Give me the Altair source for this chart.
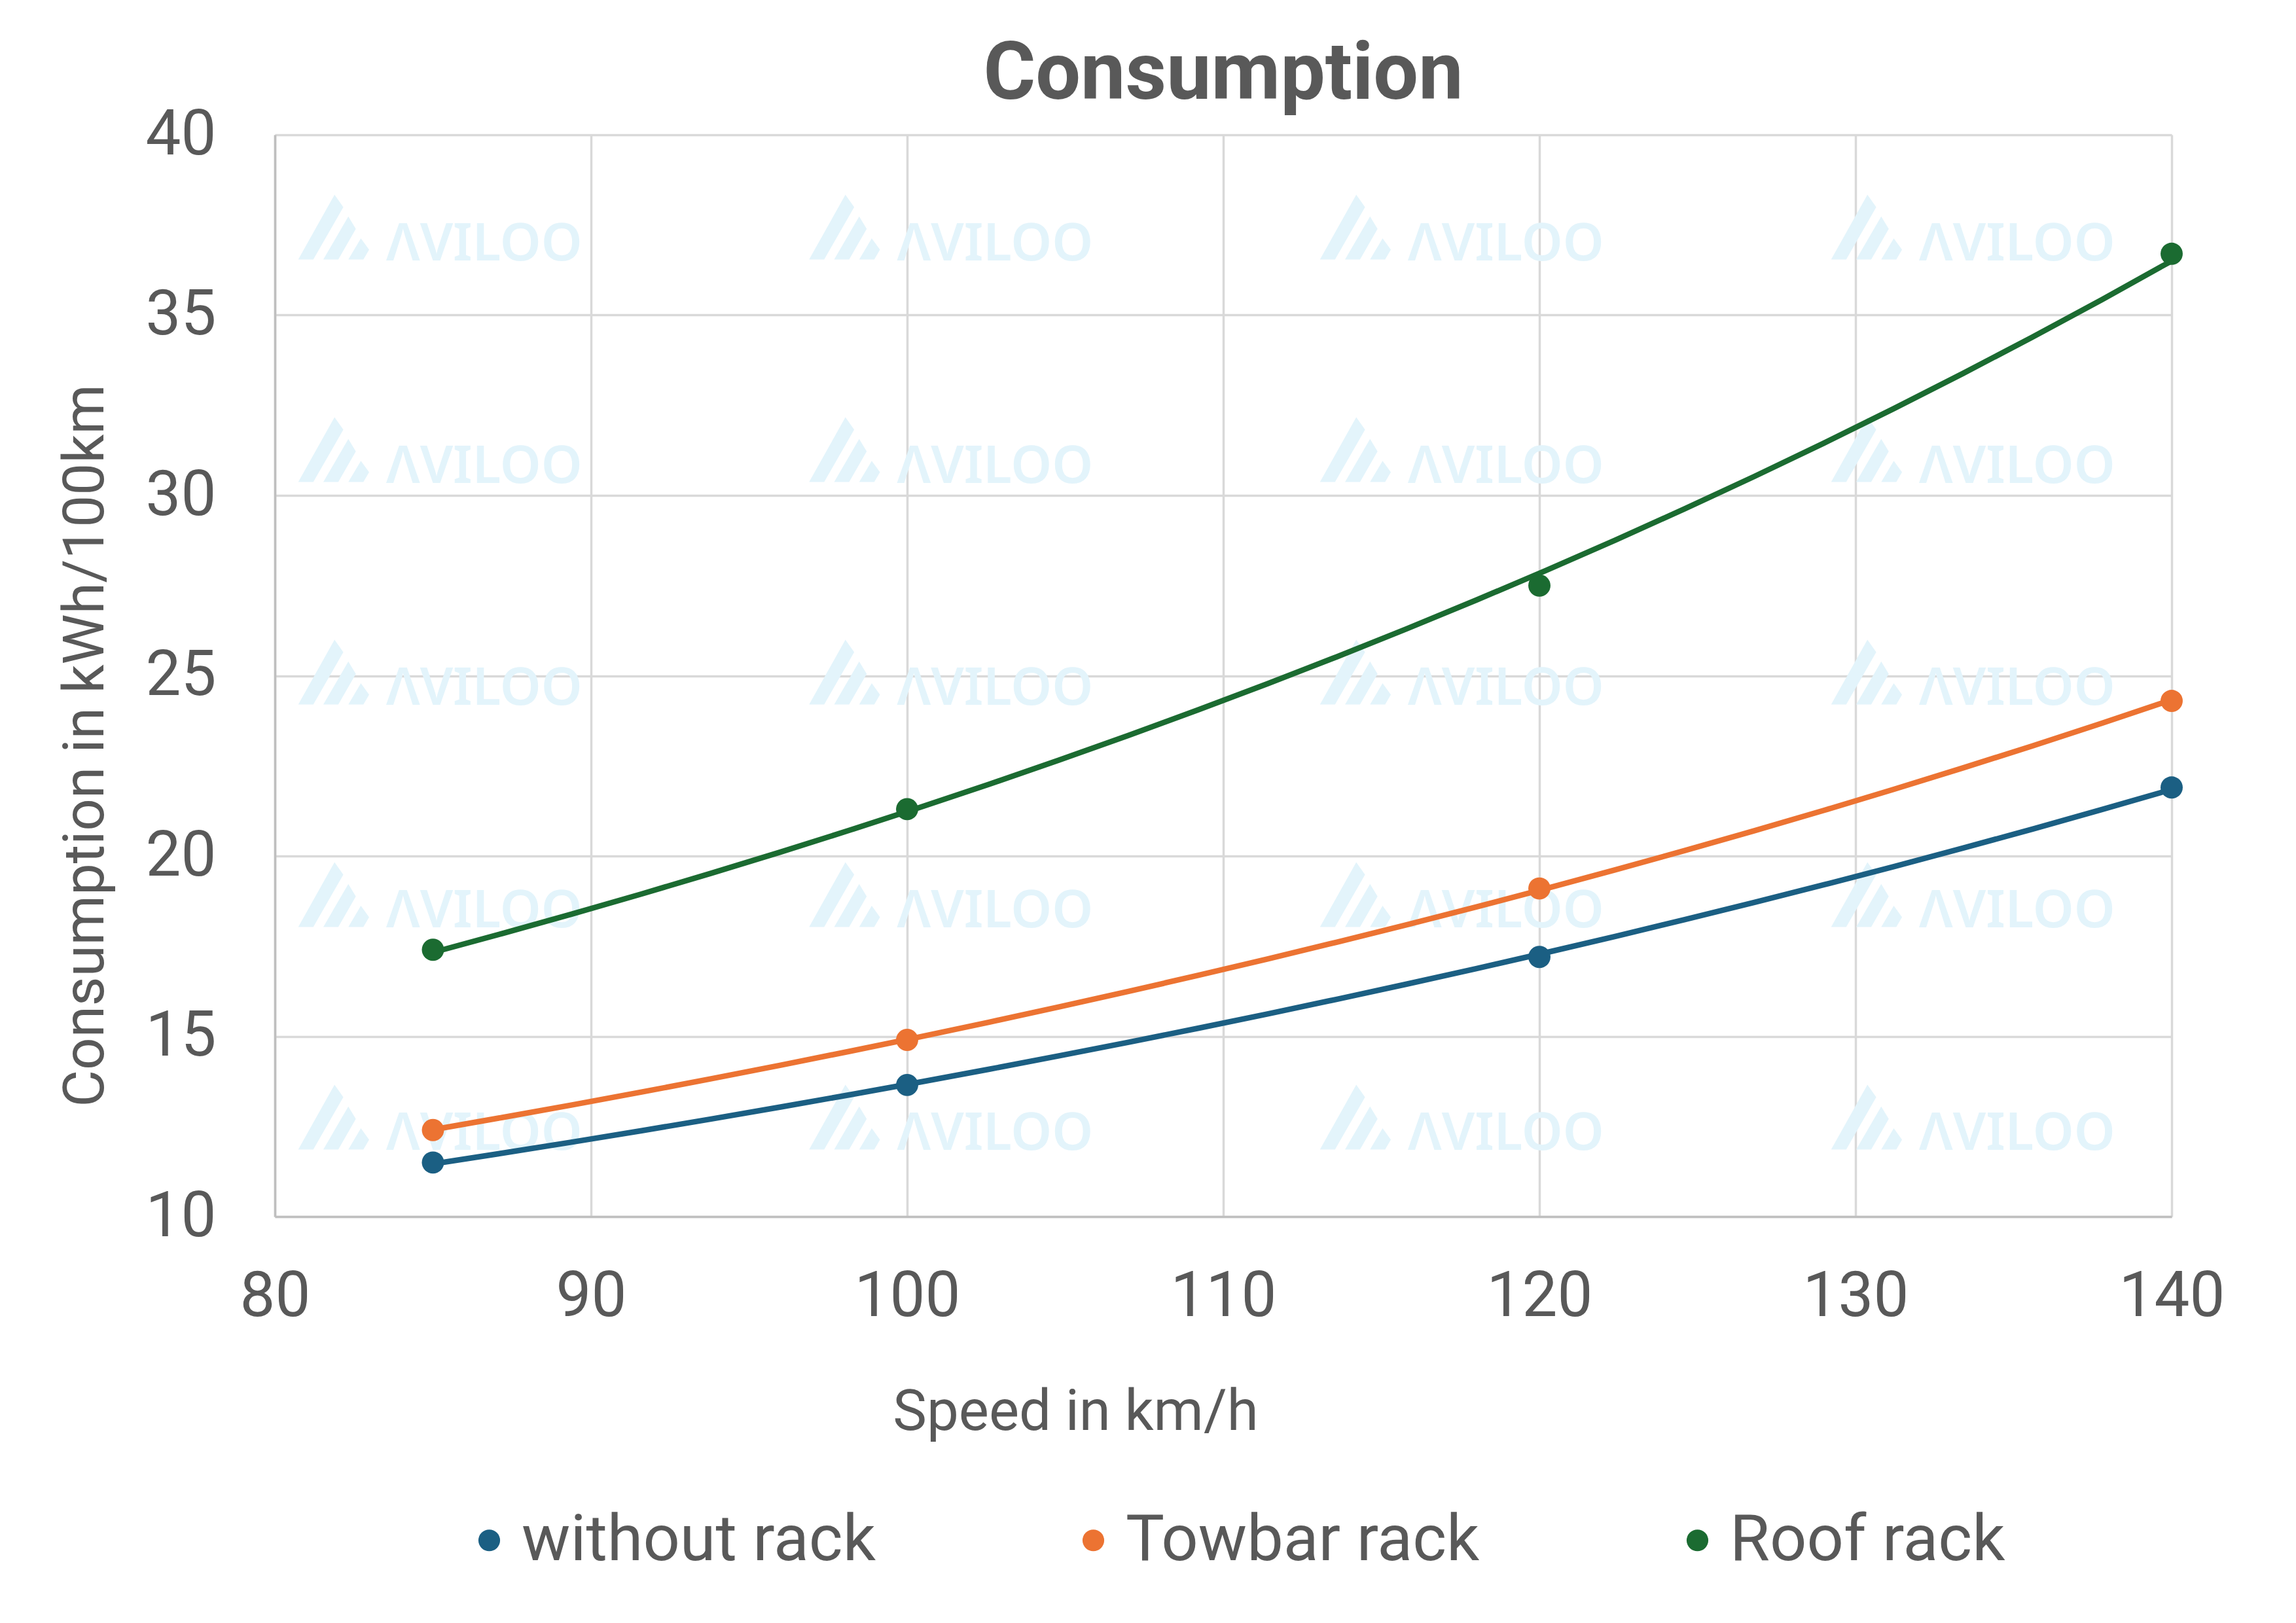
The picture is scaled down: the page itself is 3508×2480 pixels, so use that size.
import altair as alt
import pandas as pd

# ---- data ----
speeds = [85, 100, 120, 140]
series_names = ["without rack", "Towbar rack", "Roof rack"]
without_rack = [11.5, 13.65, 17.2, 21.9]
towbar_rack = [12.4, 14.9, 19.1, 24.3]
roof_rack = [17.4, 21.3, 27.5, 36.7]
series_colors = ["#1B5F83", "#EC7332", "#1B6B31"]
x_ticks = [80, 90, 100, 110, 120, 130, 140]
y_ticks = [10, 15, 20, 25, 30, 35, 40]
# watermark grid (data coordinates of logo centres)
wm_x = [81.86, 98.02, 114.18, 130.35]
wm_y = [37.44, 31.27, 25.10, 18.93, 12.76]

rows = []
for name, vals in zip(series_names, [without_rack, towbar_rack, roof_rack]):
    for s, v in zip(speeds, vals):
        rows.append({"series": name, "speed": s, "value": v})
df = pd.DataFrame(rows)
wm = pd.DataFrame([{"speed": x, "value": y} for x in wm_x for y in wm_y])

TEXT = "#595959"
FONT = "Roboto"
WM_COLOR = "#E3F4FB"
LOGO = ("M -1 0.914 L -0.575 0.914 L 0.272 -0.563 L 0.024 -0.914 Z "
        "M -0.293 0.914 L 0.13 0.914 L 0.625 0.052 L 0.413 -0.299 Z "
        "M 0.413 0.914 L 0.838 0.914 L 1 0.637 L 0.767 0.316 Z")

x_scale = alt.Scale(domain=[80, 140], nice=False, zero=False)
y_scale = alt.Scale(domain=[10, 40], nice=False, zero=False)
color_scale = alt.Scale(domain=series_names, range=series_colors)

x_axis = alt.Axis(
    values=x_ticks, title="Speed in km/h", grid=True, ticks=False, tickSize=0,
    labelPadding=75, labelFontSize=96, labelFont=FONT, labelColor=TEXT,
    labelFlush=False, labelOverlap=False,
    titleFontSize=87, titleFont=FONT, titleFontWeight="normal", titleColor=TEXT,
    titleX=1223, titleY=325, titleAlign="center", titleBaseline="alphabetic",
    domainColor="#BFBFBF", domainWidth=3.5, gridColor="#D9D9D9", gridWidth=3.5,
)
y_axis = alt.Axis(
    values=y_ticks, title="Consumption in kWh/100km", grid=True, ticks=False, tickSize=0,
    labelPadding=90, labelFontSize=96, labelFont=FONT, labelColor=TEXT,
    labelFlush=False, labelOverlap=False,
    titleFontSize=87, titleFont=FONT, titleFontWeight="normal", titleColor=TEXT,
    titleX=-263, titleY=933, titleAngle=270, titleAlign="center", titleBaseline="alphabetic",
    domainColor="#BFBFBF", domainWidth=3.5, gridColor="#D9D9D9", gridWidth=3.5,
)

X = alt.X("speed:Q", scale=x_scale, axis=x_axis)
Y = alt.Y("value:Q", scale=y_scale, axis=y_axis)

logo = alt.Chart(wm).mark_point(
    shape=LOGO, size=11729, filled=True, color=WM_COLOR, opacity=1, strokeWidth=0
).encode(x=X, y=Y)

logo_text = alt.Chart(wm).mark_text(
    text="ΛVILOO", font="Noto Sans", fontSize=80, fontWeight=600, color=WM_COLOR,
    align="center", baseline="alphabetic", dx=230, dy=50.5
).encode(x=X, y=Y)

lines = alt.Chart(df).transform_regression(
    "speed", "value", groupby=["series"], method="exp"
).mark_line(strokeWidth=8.5, interpolate="monotone").encode(
    x=X, y=Y,
    stroke=alt.Stroke("series:N", scale=color_scale, legend=None),
)

points = alt.Chart(df).mark_point(
    filled=True, shape="circle", size=1150, opacity=1, strokeWidth=0
).encode(
    x=X, y=Y,
    color=alt.Color(
        "series:N", scale=color_scale, title=None,
        legend=alt.Legend(
            orient="none", legendX=278, legendY=2098, direction="horizontal",
            columns=3, gridAlign="all", columnPadding=283, padding=0,
            labelFont=FONT, labelFontSize=99, labelColor=TEXT, labelLimit=2000,
            labelOffset=0, symbolType="circle", symbolSize=1100,
            symbolStrokeWidth=0, symbolOpacity=1,
        ),
    ),
)

chart = alt.layer(logo, logo_text, lines, points).resolve_scale(
    color="independent", stroke="independent"
).properties(
    width=2898, height=1653,
    title=alt.TitleParams(
        "Consumption", font=FONT, fontSize=122, fontWeight="bold", color=TEXT,
        anchor="middle", offset=-19,
    ),
    autosize=alt.AutoSizeParams(type="none"),
    padding={"left": 412, "top": 198, "right": 180, "bottom": 610},
).configure_view(strokeWidth=0).configure(background="white")

chart.save("out.html", embed_options={"renderer": "svg", "actions": False})
